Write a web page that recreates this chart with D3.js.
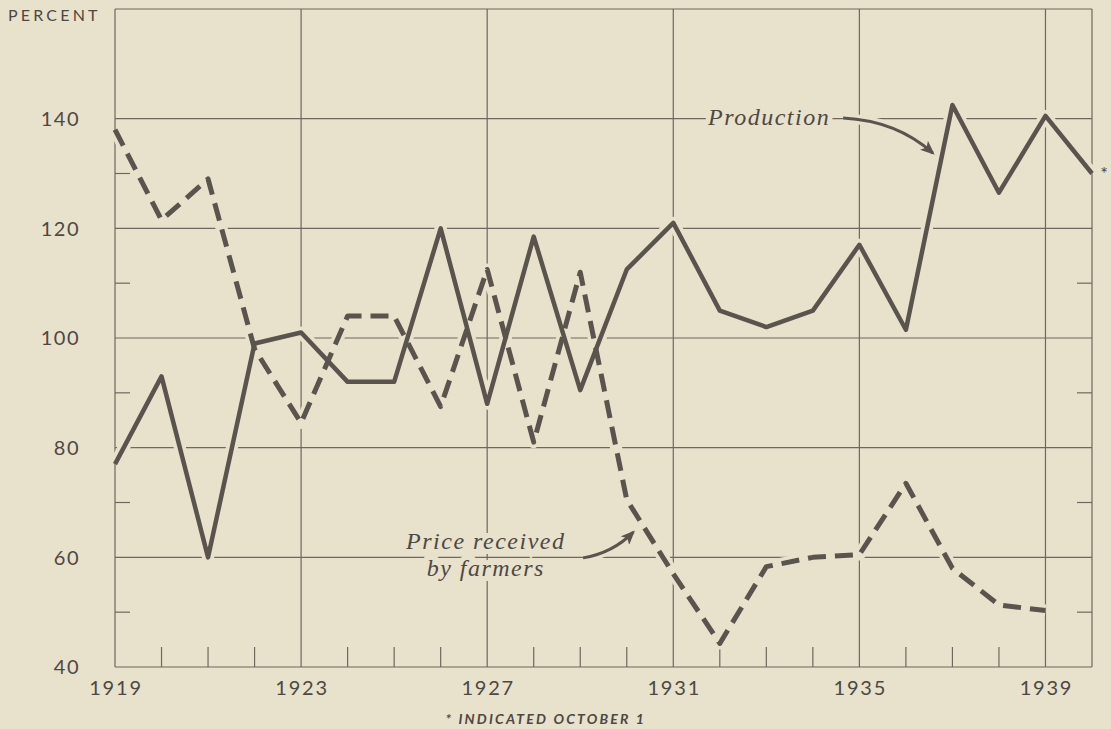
<!DOCTYPE html>
<html>
<head>
<meta charset="utf-8">
<script src="https://cdn.jsdelivr.net/npm/d3@7"></script>
<style>
	body { margin: 0; background: #e8e1cb; }
	svg { display: block; }
</style>
</head>
<body>
<div id="container"></div>
<script>
// chart values
var years = d3.range(1919, 1941);
var production = [77, 93, 60, 99, 101, 92, 92, 120, 88, 118.5, 90.5, 112.5, 121, 105, 102, 105, 117, 101.5, 142.5, 126.5, 140.5, 130];
var priceYears = d3.range(1919, 1940);
var price = [138, 121.5, 129, 98, 84.5, 104, 104, 87.5, 112.5, 81, 112, 70.5, 57, 44.3, 58.3, 60, 60.5, 73.5, 58, 51.3, 50.3];
var yTicks = [40, 60, 80, 100, 120, 140];
var yMinor = [50, 70, 90, 110, 130];
var yMinorRight = [50, 70, 90, 110];
var xLabels = [1919, 1923, 1927, 1931, 1935, 1939];
var xGrid = [1923, 1927, 1931, 1935, 1939];

var width = 1111, height = 729;
var bg = '#e8e1cb', ink = '#5a544e', gridc = '#6e685f', textc = '#4d4843';

var svg = d3.select('#container').append('svg')
	.attr('width', width)
	.attr('height', height);

svg.append('rect')
	.attr('width', width)
	.attr('height', height)
	.style('fill', bg);

var x = d3.scaleLinear().domain([1919, 1940]).range([115, 1092]);
var y = d3.scaleLinear().domain([40, 160]).range([667, 9]);

var grid = svg.append('g').attr('class', 'grid');

// horizontal grid lines
grid.selectAll('.hline').data(yTicks.concat([160])).enter()
	.append('line')
	.attr('x1', x(1919)).attr('x2', x(1940))
	.attr('y1', function(d) { return y(d); })
	.attr('y2', function(d) { return y(d); })
	.attr('stroke', gridc).attr('stroke-width', 1.2);

// vertical grid lines + borders
grid.selectAll('.vline').data([1919].concat(xGrid).concat([1940])).enter()
	.append('line')
	.attr('x1', function(d) { return x(d); })
	.attr('x2', function(d) { return x(d); })
	.attr('y1', y(160)).attr('y2', y(40))
	.attr('stroke', gridc).attr('stroke-width', 1.2);

// minor ticks on the left and right
grid.selectAll('.lt').data(yMinor).enter()
	.append('line')
	.attr('x1', x(1919)).attr('x2', x(1919) + 15)
	.attr('y1', function(d) { return y(d); })
	.attr('y2', function(d) { return y(d); })
	.attr('stroke', gridc).attr('stroke-width', 1.2);
grid.selectAll('.rt').data(yMinorRight).enter()
	.append('line')
	.attr('x1', x(1940) - 15).attr('x2', x(1940))
	.attr('y1', function(d) { return y(d); })
	.attr('y2', function(d) { return y(d); })
	.attr('stroke', gridc).attr('stroke-width', 1.2);

// year ticks along the bottom
grid.selectAll('.bt').data(years.filter(function(d) { return xGrid.indexOf(d) < 0 && d != 1919 && d != 1940; })).enter()
	.append('line')
	.attr('x1', function(d) { return x(d); })
	.attr('x2', function(d) { return x(d); })
	.attr('y1', y(40)).attr('y2', y(40) - 20)
	.attr('stroke', gridc).attr('stroke-width', 1.2);

var lineFunc = d3.line()
	.x(function(d) { return x(d[0]); })
	.y(function(d) { return y(d[1]); });

var prodData = d3.zip(years, production);
var priceData = d3.zip(priceYears, price);

// background halos so grid lines break where the curves cross them
[prodData, priceData].forEach(function(data) {
	svg.append('path')
		.attr('d', lineFunc(data))
		.attr('fill', 'none')
		.attr('stroke', bg)
		.attr('stroke-width', 12)
		.attr('stroke-linejoin', 'round');
});

svg.append('path')
	.attr('class', 'production')
	.attr('d', lineFunc(prodData))
	.attr('fill', 'none')
	.attr('stroke', ink)
	.attr('stroke-width', 4.5)
	.attr('stroke-linejoin', 'round');

svg.append('path')
	.attr('class', 'price')
	.attr('d', lineFunc(priceData))
	.attr('fill', 'none')
	.attr('stroke', ink)
	.attr('stroke-width', 5)
	.attr('stroke-linejoin', 'round')
	.attr('stroke-dasharray', '18,9');

// axis labels
svg.selectAll('.ylab').data(yTicks).enter()
	.append('text')
	.attr('x', 80)
	.attr('y', function(d) { return y(d); })
	.attr('dy', '0.36em')
	.style('text-anchor', 'end')
	.style('font', '20px Lato')
	.style('letter-spacing', '1.5px')
	.style('fill', textc)
	.text(function(d) { return d; });

svg.selectAll('.xlab').data(xLabels).enter()
	.append('text')
	.attr('x', function(d) { return x(d) + 1; })
	.attr('y', 695)
	.style('text-anchor', 'middle')
	.style('font', '20px Lato')
	.style('letter-spacing', '1.8px')
	.style('fill', textc)
	.text(function(d) { return d; });

svg.append('text')
	.attr('x', 8)
	.attr('y', 21)
	.style('font', '16px Lato')
	.style('letter-spacing', '3.2px')
	.style('fill', textc)
	.text('PERCENT');

// annotations
var defs = svg.append('defs');
defs.append('marker')
	.attr('id', 'head')
	.attr('viewBox', '0 0 12 10')
	.attr('refX', 10).attr('refY', 5)
	.attr('markerWidth', 5).attr('markerHeight', 4)
	.attr('orient', 'auto')
	.attr('markerUnits', 'strokeWidth')
	.append('path')
	.attr('d', 'M0,0 L12,5 L0,10 L3,5 Z')
	.style('fill', ink);

function label(lines, cx, cy) {
	var t = svg.append('text')
		.style('font', 'italic 24px "Liberation Serif"')
		.style('letter-spacing', '1.5px')
		.style('text-anchor', 'middle')
		.style('fill', textc)
		.style('stroke', bg)
		.style('stroke-width', 10)
		.style('paint-order', 'stroke');
	lines.forEach(function(s, i) {
		t.append('tspan').attr('x', x(cx)).attr('y', y(cy) + i * 27).text(s);
	});
}
label(['Production'], 1933.06, 138.9);
label(['Price received', 'by farmers'], 1926.97, 61.5);

function arrow(p0, p1, p2) {
	var d = 'M' + x(p0[0]) + ',' + y(p0[1]) + ' Q' + x(p1[0]) + ',' + y(p1[1]) + ' ' + x(p2[0]) + ',' + y(p2[1]);
	svg.append('path').attr('d', d).attr('fill', 'none')
		.attr('stroke', bg).attr('stroke-width', 10);
	svg.append('path').attr('d', d).attr('fill', 'none')
		.attr('stroke', ink).attr('stroke-width', 3)
		.attr('marker-end', 'url(#head)');
}
arrow([1934.65, 140.1], [1935.8, 139.6], [1936.58, 133.7]);
arrow([1929.06, 59.9], [1929.7, 60.8], [1930.14, 64.6]);

svg.append('text')
	.attr('x', x(1940) + 12)
	.attr('y', y(130) + 6)
	.style('text-anchor', 'middle')
	.style('font', '18px Lato')
	.style('fill', textc)
	.text('*');

svg.append('text')
	.attr('x', x(1928.26))
	.attr('y', 724)
	.style('text-anchor', 'middle')
	.style('font', 'italic bold 14px Lato')
	.style('letter-spacing', '2.2px')
	.style('fill', textc)
	.text('* INDICATED OCTOBER 1');
</script>
</body>
</html>
